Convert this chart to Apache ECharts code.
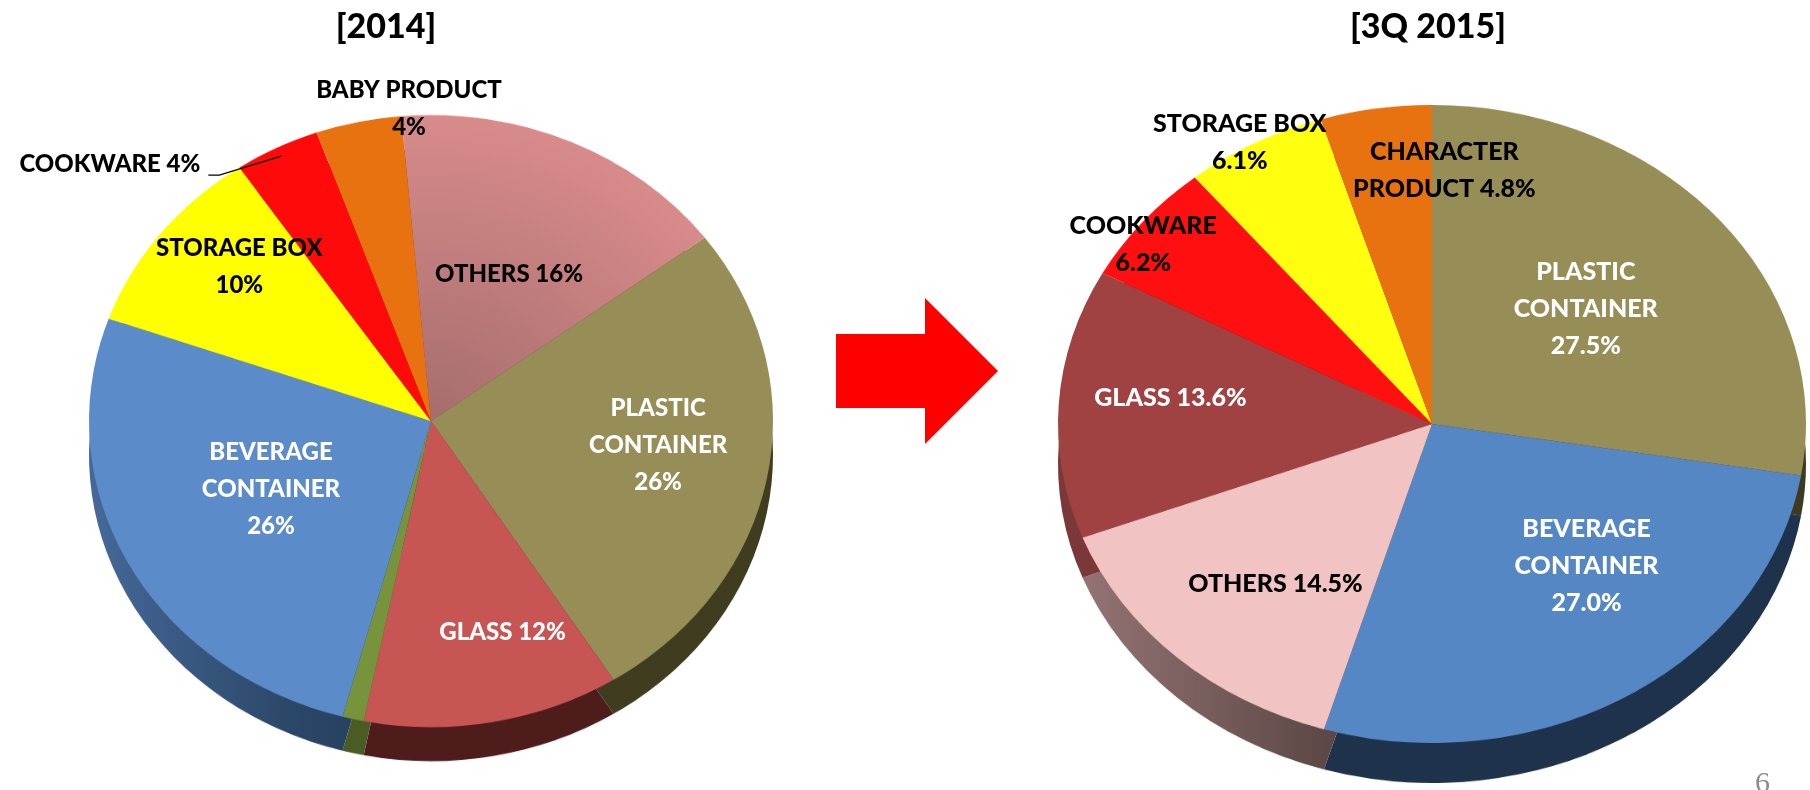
<!DOCTYPE html>
<html><head><meta charset="utf-8">
<script src="https://cdn.jsdelivr.net/npm/echarts@6/dist/echarts.min.js"></script>
<style>
html,body{margin:0;padding:0;background:#fff;width:1810px;height:790px;overflow:hidden;}
.layer{position:absolute;left:0;top:0;width:1810px;}
</style></head><body>
<div id="pieL" class="layer"></div>
<div id="pieR" class="layer"></div>
<div id="overlay" class="layer" style="height:790px"></div>
<script>
// ---------------- data ----------------
const leftTitle = '[2014]';
const rightTitle = '[3Q 2015]';
const leftCategories = ['OTHERS', 'PLASTIC\nCONTAINER', 'GLASS', '', 'BEVERAGE\nCONTAINER', 'STORAGE BOX', 'COOKWARE', 'BABY PRODUCT'];
const leftValues = [16, 26, 12, 1, 26, 10, 4, 4];
const rightCategories = ['PLASTIC\nCONTAINER', 'BEVERAGE\nCONTAINER', 'OTHERS', 'GLASS', 'COOKWARE', 'STORAGE BOX', 'CHARACTER\nPRODUCT'];
const rightValues = [27.5, 27.0, 14.5, 13.6, 6.2, 6.1, 4.8];
const pageNumber = '6';

// ---------------- layout & styles ----------------
const L = {cx: 431, cy: 421, r: 342, s: 0.895, depth: 34, start: 95, decimals: 0, font: 24, lh: 37};
const R = {cx: 1432, cy: 424, r: 374, s: 0.853, depth: 40, start: 90, decimals: 1, font: 25, lh: 37};

const leftSep = [' ', '\n', ' ', ' ', '\n', '\n', ' ', '\n'];
const rightSep = ['\n', '\n', ' ', ' ', '\n', '\n', ' '];
const leftLabelColor = ['#000', '#fff', '#fff', '#000', '#fff', '#000', '#000', '#000'];
const rightLabelColor = ['#fff', '#fff', '#000', '#fff', '#000', '#000', '#000'];
const leftNudge = [[7, -5], [56, -4], [40, 58], [0, 0], [-6, -4], [-54, -59], [0, 0], [15, -160]];
const rightNudge = [[9, -10], [54, 4], [-27, 41], [-72, -16], [-142, -77], [-102, -139], [41, -93]];
const leftLeader = {index: 6, d1: [-62, 19], d2: -11, gap: 8, rise: -11};

function glob(G, stops, type) {
  if (type === 'radial') {
    return {type: 'radial', x: G.cx, y: G.cy / G.s, r: G.r, global: true,
      colorStops: stops.map(s => ({offset: s[0], color: s[1]}))};
  }
  return {type: 'linear', x: G.cx - G.r, y: 0, x2: G.cx + G.r, y2: 0, global: true,
    colorStops: stops.map(s => ({offset: s[0], color: s[1]}))};
}

const leftTop = [
  glob(L, [[0, '#a56d6d'], [1, '#d98b8b']], 'radial'),
  '#978d56', '#c75553', '#77933c', '#5b8bc8', '#ffff00', '#ff0a0a', '#e8720f'];
const leftSide = ['#6e4444', '#403c1f', '#4f1c1c', '#4a5c24',
  glob(L, [[0, '#46699a'], [0.3, '#2b4767'], [0.6, '#203654'], [1, '#1c2f48']]),
  '#8a8a00', '#8a0000', '#7a3c08'];
const rightTop = ['#978d56', '#5587c5', '#f2c3c3', '#a04242', '#ff0f0f', '#ffff0f', '#e8720f'];
const rightSide = ['#3d3a22', '#1f324c',
  glob(R, [[0, '#9a7878'], [0.36, '#5c4846'], [1, '#4a3a38']]),
  '#7a3838', '#8a0000', '#8a8a00', '#7a3c08'];

// ---------------- pie bodies (ellipses via vertical scaling) ----------------
function drawBody(id, G, cats, values, topColors, sideColors) {
  const el = document.getElementById(id);
  el.style.height = (790 / G.s) + 'px';
  el.style.transformOrigin = '0 0';
  el.style.transform = 'scaleY(' + G.s + ')';
  const chart = echarts.init(el, null, {renderer: 'canvas'});
  const common = {type: 'pie', radius: G.r, startAngle: G.start, clockwise: true,
    silent: true, label: {show: false}, labelLine: {show: false},
    itemStyle: {borderWidth: 0}, emphasis: {disabled: true}};
  chart.setOption({
    animation: false,
    series: [
      Object.assign({}, common, {center: [G.cx, (G.cy + G.depth) / G.s],
        data: values.map((v, i) => ({name: cats[i], value: v, itemStyle: {color: sideColors[i]}}))}),
      Object.assign({}, common, {center: [G.cx, G.cy / G.s],
        data: values.map((v, i) => ({name: cats[i], value: v, itemStyle: {color: topColors[i]}}))})
    ]
  });
}
drawBody('pieL', L, leftCategories, leftValues, leftTop, leftSide);
drawBody('pieR', R, rightCategories, rightValues, rightTop, rightSide);

// ---------------- labels overlay ----------------
function makeLabelLayout(G, nudges, leader) {
  return function (p) {
    const i = p.dataIndex;
    const rc = p.labelRect;
    const lx = rc.x + rc.width / 2, ly = rc.y + rc.height / 2;
    if (leader && i === leader.index && p.labelLinePoints) {
      const e = p.labelLinePoints[0];
      const p0 = [G.cx + 0.97 * (e[0] - G.cx), G.cy + 0.97 * G.s * (e[1] - G.cy)];
      const p1 = [p0[0] + leader.d1[0], p0[1] + leader.d1[1]];
      const p2 = [p1[0] + leader.d2, p1[1]];
      const tx = p2[0] - leader.gap - rc.width / 2, ty = p2[1] + leader.rise;
      return {dx: tx - lx, dy: ty - ly, labelLinePoints: [p0, p1, p2]};
    }
    const n = nudges[i] || [0, 0];
    return {dx: n[0], dy: (ly - G.cy) * (G.s - 1) + n[1]};
  };
}

function labelPie(G, cats, values, seps, colors, nudges, leader) {
  return {
    type: 'pie', center: [G.cx, G.cy], radius: G.r, startAngle: G.start, clockwise: true,
    silent: true, avoidLabelOverlap: false, emphasis: {disabled: true},
    itemStyle: {color: 'rgba(0,0,0,0)', borderWidth: 0},
    labelLayout: makeLabelLayout(G, nudges, leader),
    data: values.map((v, i) => {
      const isLeader = leader && i === leader.index;
      return {
        name: cats[i], value: v,
        label: {
          show: cats[i] !== '',
          position: isLeader ? 'outside' : 'inside',
          formatter: cats[i] + seps[i] + v.toFixed(G.decimals) + '%',
          color: colors[i], fontFamily: 'Lato', fontWeight: 900,
          fontSize: G.font, lineHeight: G.lh, align: 'center'
        },
        labelLine: {show: !!isLeader, length: 10, length2: 10,
          lineStyle: {color: '#000', width: 1.3}}
      };
    })
  };
}

const overlay = echarts.init(document.getElementById('overlay'), null, {renderer: 'canvas'});
const titleStyle = {fontFamily: 'Lato', fontWeight: 900, fontSize: 34, color: '#000'};
overlay.setOption({
  animation: false,
  title: [
    {text: leftTitle, left: 381, top: 5, textAlign: 'center', textStyle: titleStyle},
    {text: rightTitle, left: 1423, top: 5, textAlign: 'center', textStyle: titleStyle}
  ],
  graphic: [
    {type: 'polygon', silent: true,
      shape: {points: [[836, 334], [925, 334], [925, 298], [998, 371], [925, 444], [925, 408], [836, 408]]},
      style: {fill: '#ff0000'}},
    {type: 'text', left: 1755, top: 769, silent: true,
      style: {text: pageNumber, font: '30px "Liberation Serif"', fill: '#8c8c8c'}}
  ],
  series: [
    labelPie(L, leftCategories, leftValues, leftSep, leftLabelColor, leftNudge, leftLeader),
    labelPie(R, rightCategories, rightValues, rightSep, rightLabelColor, rightNudge, null)
  ]
});
</script>
</body></html>
